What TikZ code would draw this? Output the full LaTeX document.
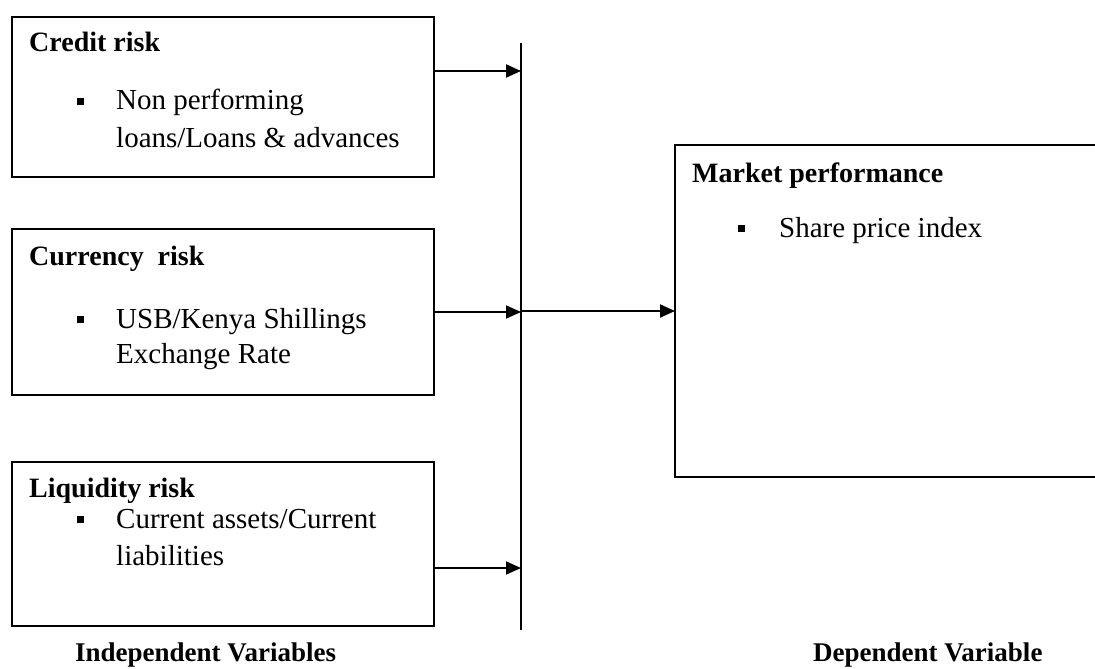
\documentclass[tikz,border=0pt]{standalone}
\usepackage{fontspec}
\setmainfont{Liberation Serif}
\usetikzlibrary{arrows.meta}

\tikzset{
  varbox/.style={draw=black, line width=2pt, inner sep=0pt, outer sep=0pt, anchor=north west},
  head/.style={anchor=base west, inner sep=0pt, font=\fontsize{28}{33}\selectfont\bfseries},
  body/.style={anchor=base west, inner sep=0pt, font=\fontsize{29}{37}\selectfont},
  foot/.style={anchor=base west, inner sep=0pt, font=\fontsize{27}{32}\selectfont\bfseries},
  dot/.style={fill=black, inner sep=0pt, minimum size=7pt},
  flow/.style={line width=2pt, -{Triangle[length=15pt,width=13pt]}},
  bus/.style={line width=2pt}
}

\begin{document}
\begin{tikzpicture}[x=1pt,y=-1pt]
\useasboundingbox (0,0) rectangle (1095,669);

% independent variable boxes
\node[varbox, minimum width=422pt, minimum height=160pt] (credit) at (12,17) {};
\node[varbox, minimum width=422pt, minimum height=166pt] (currency) at (12,229) {};
\node[varbox, minimum width=422pt, minimum height=164pt] (liquidity) at (12,462) {};
% dependent variable box (runs off the right edge)
\node[varbox, minimum width=424pt, minimum height=332pt] (market) at (675,145) {};

% credit risk
\node[head] (creditT) at (29,52) {Credit risk};
\node[dot] (creditB) at (80,101) {};
\node[body] (creditL1) at (116,110) {Non performing};
\node[body] (creditL2) at (116,147) {loans/Loans \& advances};

% currency risk
\node[head] (currencyT) at (29,265) {Currency\ \ risk};
\node[dot] (currencyB) at (80,319) {};
\node[body] (currencyL1) at (116,328) {USB/Kenya\ Shillings};
\node[body] (currencyL2) at (116,363) {Exchange Rate};

% liquidity risk
\node[head] (liquidityT) at (29,497) {Liquidity risk};
\node[dot] (liquidityB) at (80,519) {};
\node[body] (liquidityL1) at (116,528) {Current assets/Current};
\node[body] (liquidityL2) at (116,565) {liabilities};

% market performance
\node[head] (marketT) at (692,182) {Market\ performance};
\node[dot] (marketB) at (741,228) {};
\node[body] (marketL1) at (779,237) {Share price index};

% captions
\node[foot] (indep) at (75,661) {Independent Variables};
\node[foot] (dep) at (813,661) {Dependent Variable};

% collecting line
\coordinate (busTop) at (521,43);
\coordinate (busBot) at (521,630);
\draw[bus] (busTop) -- (busBot);

% connectors
\draw[flow] ([yshift=-54pt]credit.north east) -- ([yshift=-54pt]credit.north east -| busTop);
\draw[flow] ([yshift=-83pt]currency.north east) -- ([yshift=-83pt]currency.north east -| busTop);
\draw[flow] ([yshift=-106pt]liquidity.north east) -- ([yshift=-106pt]liquidity.north east -| busTop);
\draw[flow] ([yshift=-166pt]market.north west -| busTop) -- ([yshift=-166pt]market.north west);
\end{tikzpicture}
\end{document}
